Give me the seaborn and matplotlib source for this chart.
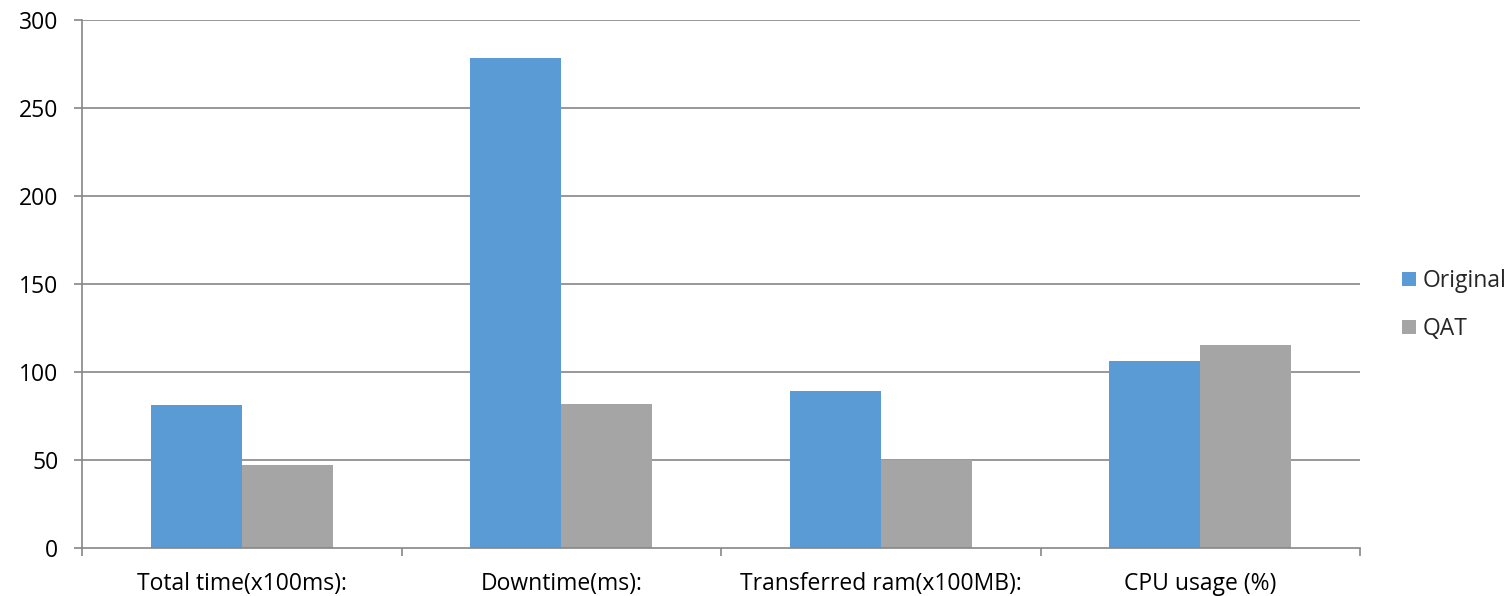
import matplotlib
matplotlib.use("Agg")
import matplotlib.pyplot as plt
import seaborn as sns
import pandas as pd
from matplotlib.patches import Patch

categories = ["Total time(x100ms):", "Downtime(ms):", "Transferred ram(x100MB):", "CPU usage (%)"]
series_names = ["Original", "QAT"]
original_values = [81.2, 278.6, 89.0, 106.1]
qat_values = [47.2, 81.8, 50.0, 115.3]
y_ticks = [0, 50, 100, 150, 200, 250, 300]

colors = {"Original": "#5B9BD5", "QAT": "#A5A5A5"}
grid_color = "#868686"

df = pd.DataFrame({
    "category": categories * 2,
    "series": [series_names[0]] * len(categories) + [series_names[1]] * len(categories),
    "value": original_values + qat_values,
})

sns.set_theme(style="white")
plt.rcParams["font.family"] = ["Open Sans", "DejaVu Sans"]

fig = plt.figure(figsize=(15.12, 5.96), dpi=100)
ax = fig.add_axes([82 / 1512, 48 / 596, (1360 - 82) / 1512, (548 - 20) / 596])

sns.barplot(data=df, x="category", y="value", hue="series", order=categories,
            hue_order=series_names, palette=colors, width=0.57, gap=0,
            saturation=1, linewidth=0, ax=ax, legend=False, zorder=3)

ax.set_xlim(-0.5, len(categories) - 0.5)
ax.set_ylim(0, 300)
ax.set_yticks(y_ticks)
ax.set_yticklabels([str(t) for t in y_ticks], fontsize=16.5, color="#000000")
ax.set_xlabel("")
ax.set_ylabel("")

# horizontal gridlines
for t in y_ticks[1:]:
    ax.axhline(t, color=grid_color, linewidth=1.2, zorder=1)

# category labels centred, boundary tick marks below the axis
ax.set_xticks(range(len(categories)))
ax.set_xticklabels(categories, fontsize=16.5, color="#000000")
ax.tick_params(axis="x", which="major", length=0, pad=17)
ax.set_xticks([i - 0.5 for i in range(len(categories) + 1)], minor=True)
ax.tick_params(axis="x", which="minor", length=6, width=1.2, color=grid_color, direction="out", bottom=True)
ax.tick_params(axis="y", length=6, width=1.2, color=grid_color, direction="out", left=True, pad=11)

for side in ["top", "right"]:
    ax.spines[side].set_visible(False)
for side in ["left", "bottom"]:
    ax.spines[side].set_color(grid_color)
    ax.spines[side].set_linewidth(1.2)
    ax.spines[side].set_zorder(4)

handles = [Patch(facecolor=colors[s], edgecolor="none", label=s) for s in series_names]
fig.legend(handles=handles, loc="center left", bbox_to_anchor=(1402 / 1512, 1 - 305 / 596),
           frameon=False, fontsize=16.5, handlelength=0.6, handleheight=0.6,
           handletextpad=0.3, labelspacing=1.05, borderaxespad=0, borderpad=0)

fig.savefig("out.png", dpi=100, facecolor="white")
